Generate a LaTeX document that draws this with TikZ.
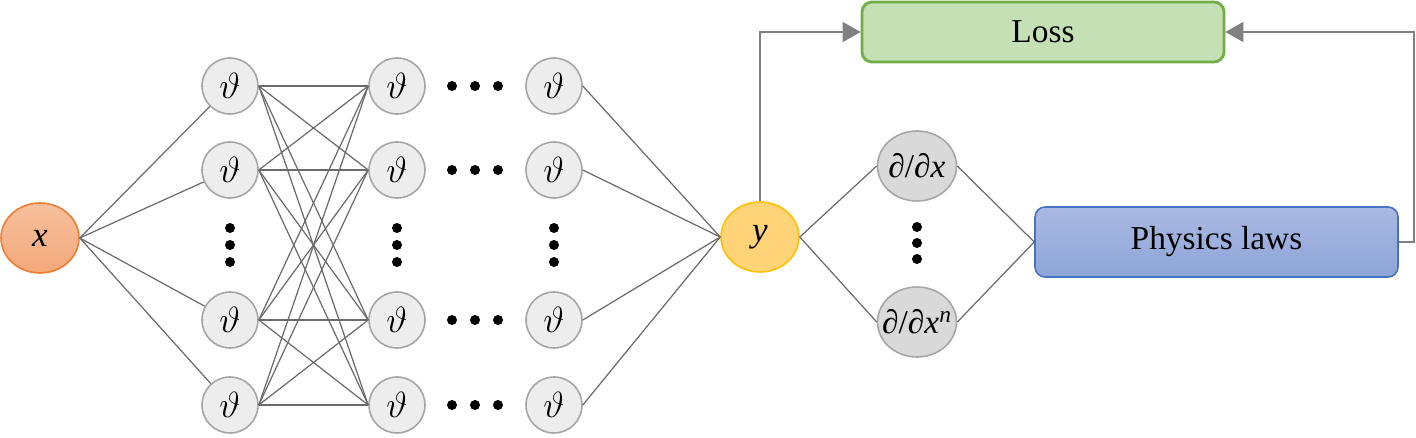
\documentclass[tikz,border=0pt]{standalone}
\usepackage{fontspec}
\setmainfont{Liberation Serif}
\usetikzlibrary{arrows.meta,shapes.geometric}
\definecolor{thetaFill}{RGB}{237,237,237}
\definecolor{thetaEdge}{RGB}{165,165,165}
\definecolor{inTop}{RGB}{247,192,157}
\definecolor{inBot}{RGB}{242,168,122}
\definecolor{inEdge}{RGB}{237,125,49}
\definecolor{outFill}{RGB}{255,212,120}
\definecolor{outEdge}{RGB}{255,192,0}
\definecolor{derivFill}{RGB}{217,217,217}
\definecolor{derivEdge}{RGB}{166,166,166}
\definecolor{lossFill}{RGB}{197,224,180}
\definecolor{lossEdge}{RGB}{112,173,71}
\definecolor{physTop}{RGB}{170,185,226}
\definecolor{physBot}{RGB}{142,165,216}
\definecolor{physEdge}{RGB}{68,114,196}
\colorlet{lineGray}{black!58}
\colorlet{arrowGray}{black!50}

\begin{document}
\begin{tikzpicture}[
    neuron/.style={circle, draw=thetaEdge, fill=thetaFill, line width=0.9pt,
        minimum size=1.12cm, inner sep=0pt, font=\fontsize{22}{26}\selectfont},
    io/.style={ellipse, line width=0.9pt, minimum width=1.56cm, minimum height=1.4cm,
        inner sep=0pt, font=\fontsize{20}{24}\selectfont},
    deriv/.style={ellipse, draw=derivEdge, fill=derivFill, line width=0.9pt,
        minimum width=1.58cm, minimum height=1.4cm, inner sep=0pt,
        font=\fontsize{19}{23}\selectfont},
    box/.style={rectangle, rounded corners=0.2cm, font=\fontsize{19}{23}\selectfont},
    link/.style={draw=lineGray, line width=0.7pt},
    flow/.style={draw=arrowGray, line width=1.1pt, -{Triangle[length=0.36cm,width=0.4cm]}},
]
    \useasboundingbox (0,0) rectangle (28.32,8.74);

    \node[io, draw=inEdge, top color=inTop, bottom color=inBot] (x) at (0.80,3.98) {\textit{x}};

    % hidden layers
    \foreach \c/\xx in {1/4.60, 2/7.94, 3/11.08} {
        \foreach \r/\yy in {1/7.02, 2/5.34, 3/2.34, 4/0.64}
            \node[neuron] (n\c\r) at (\xx,\yy) {$\vartheta$};
        \foreach \yy in {4.18, 3.84, 3.50}
            \fill (\xx,\yy) circle (0.1);
    }
    \foreach \yy in {7.02, 5.34, 2.34, 0.64}
        \foreach \xx in {9.04, 9.50, 9.96}
            \fill (\xx,\yy) circle (0.1);

    \node[io, draw=outEdge, fill=outFill] (y) at (15.20,4.00) {\textit{y}};

    \node[deriv] (d1) at (18.34,5.42) {\makebox[0pt]{∂/∂\textit{x}}};
    \node[deriv] (d2) at (18.34,2.30) {\makebox[0pt]{∂/∂\textit{x}\textsuperscript{\textit{n}}}};
    \foreach \yy in {4.20, 3.88, 3.56}
        \fill (18.34,\yy) circle (0.1);

    \node[box, draw=lossEdge, fill=lossFill, line width=1.6pt,
        minimum width=7.24cm, minimum height=1.2cm] (loss) at (20.86,8.10) {Loss};
    \node[box, draw=physEdge, top color=physTop, bottom color=physBot, line width=0.9pt,
        minimum width=7.26cm, minimum height=1.4cm] (phys) at (24.33,3.90) {Physics laws};

    \foreach \r in {1,...,4} {
        \draw[link] (x.east) -- (n1\r);
        \draw[link] (n3\r.east) -- (y.west);
        \foreach \s in {1,...,4}
            \draw[link] (n1\r.east) -- (n2\s.west);
    }
    \draw[link] (y.east) -- (d1.west);
    \draw[link] (y.east) -- (d2.west);
    \draw[link] (d1.east) -- (phys.west);
    \draw[link] (d2.east) -- (phys.west);

    \draw[flow] (y.north) |- (loss.west);
    \draw[flow] (phys.east) -- ++(0.3,0) |- (loss.east);
\end{tikzpicture}
\end{document}
